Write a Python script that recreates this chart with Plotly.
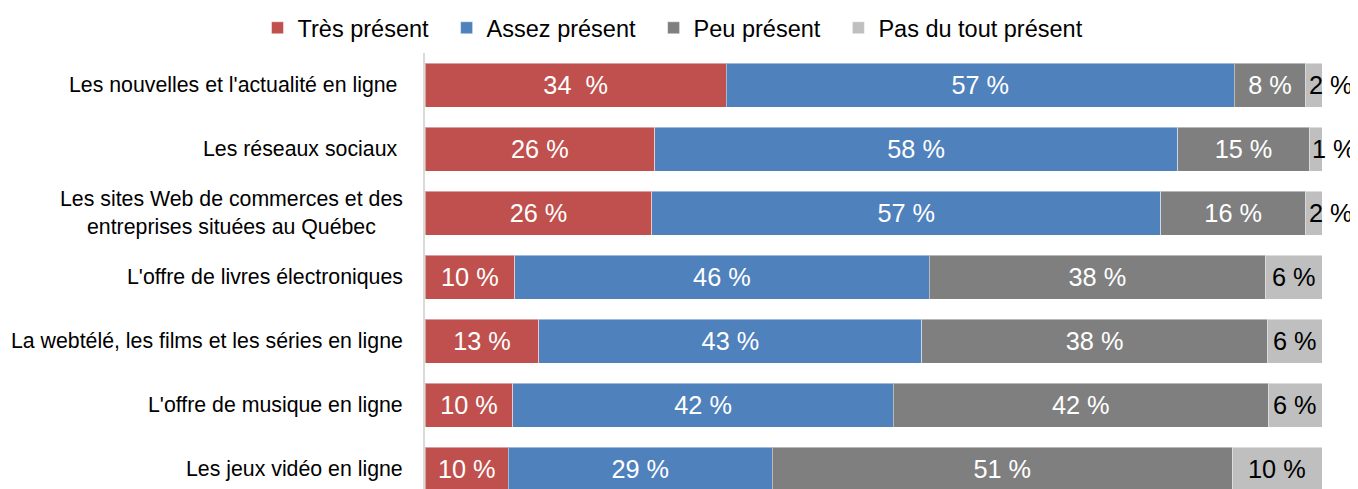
import plotly.graph_objects as go

categories = [
    "Les nouvelles et l'actualité en ligne\u00a0",
    "Les réseaux sociaux\u00a0",
    "Les sites Web de commerces et des<br>entreprises situées au Québec",
    "L'offre de livres électroniques",
    "La webtélé, les films et les séries en ligne",
    "L'offre de musique en ligne",
    "Les jeux vidéo en ligne",
]
series_names = ["Très présent", "Assez présent", "Peu présent", "Pas du tout présent"]

tres = [33.6, 25.6, 25.3, 10.0, 12.7, 9.8, 9.3]
assez = [56.6, 58.3, 56.7, 46.2, 42.7, 42.4, 29.4]
peu = [8.0, 14.7, 16.2, 37.5, 38.5, 41.8, 51.3]
pas = [1.8, 1.4, 1.8, 6.3, 6.1, 6.0, 10.0]

tres_labels = ["34 \u00a0%", "26 %", "26 %", "10 %", "13 %", "10 %", "10 %"]
assez_labels = ["57 %", "58 %", "57 %", "46 %", "43 %", "42 %", "29 %"]
peu_labels = ["8 %", "15 %", "16 %", "38 %", "38 %", "42 %", "51 %"]
pas_labels = ["2 %", "1 %", "2 %", "6 %", "6 %", "6 %", "10 %"]

colors = ["#C0504D", "#4F81BD", "#7F7F7F", "#BFBFBF"]
FONT = "Liberation Sans, Arial, sans-serif"

fig = go.Figure()
for k, (name, vals, labels, col) in enumerate(zip(series_names,
                                   [tres, assez, peu, pas],
                                   [tres_labels, assez_labels, peu_labels, None],
                                   colors)):
    legend_name = name + ("\u00a0\u00a0" if k < len(series_names) - 1 else "")
    fig.add_trace(go.Bar(
        name=legend_name, y=categories, x=vals, orientation="h",
        marker=dict(color=col, line=dict(width=1, color="rgba(255,255,255,0.45)")),
        text=labels if labels is not None else None,
        textposition="inside" if labels is not None else "none",
        insidetextanchor="middle", constraintext="none", textangle=0,
        textfont=dict(color="white", size=25.3, family=FONT),
    ))

# labels for the small light-grey segments
annotations = []
for i, cat in enumerate(categories):
    start = tres[i] + assez[i] + peu[i]
    if pas[i] < 3:
        annotations.append(dict(x=start, y=cat, xref="x", yref="y", text=pas_labels[i],
                                xanchor="left", xshift=1, showarrow=False,
                                font=dict(size=25.3, color="black", family=FONT)))
    else:
        annotations.append(dict(x=start + pas[i] / 2, y=cat, xref="x", yref="y", text=pas_labels[i],
                                xanchor="center", showarrow=False,
                                font=dict(size=25.3, color="black", family=FONT)))
    annotations.append(dict(x=0, y=cat, xref="paper", yref="y", text=cat,
                            xanchor="right", xshift=-20, align="center", showarrow=False,
                            font=dict(size=21.3, color="black", family=FONT)))

fig.update_layout(
    width=1350, height=481,
    margin=dict(l=417, r=36, t=45, b=0),
    barmode="stack", bargap=0.3125,
    plot_bgcolor="white", paper_bgcolor="white",
    font=dict(family=FONT, color="black"),
    showlegend=True,
    legend=dict(orientation="h", xref="container", yref="container",
                x=0.4926, xanchor="center", y=1 - 20 / 481, yanchor="middle",
                font=dict(size=23.5, family=FONT), traceorder="normal"),
    xaxis=dict(range=[0, 100], visible=False, fixedrange=True),
    yaxis=dict(type="category", categoryorder="array", categoryarray=categories,
               range=[6.3125, -0.5], showticklabels=False, ticks="",
               showline=True, linecolor="#D9D9D9", linewidth=2, showgrid=False,
               zeroline=False),
    annotations=annotations,
)

fig.write_html("out.html")
